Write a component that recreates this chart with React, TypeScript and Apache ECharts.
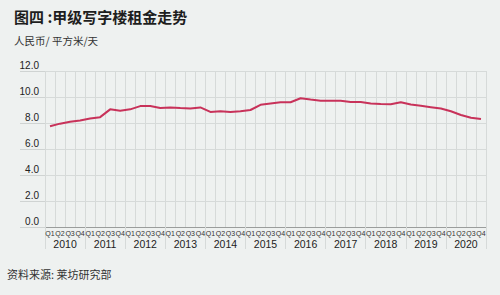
import React, { useEffect, useRef } from "react";
import * as echarts from "echarts";

const years = ["2010", "2011", "2012", "2013", "2014", "2015", "2016", "2017", "2018", "2019", "2020"];
const quarterNames = ["Q1", "Q2", "Q3", "Q4"];
const quarters: string[] = years.flatMap((y) => quarterNames.map((q) => `${y} ${q}`));
const rent = [
  7.75, 7.95, 8.1, 8.2,
  8.35, 8.45, 9.05, 8.95,
  9.05, 9.3, 9.3, 9.15,
  9.2, 9.15, 9.12, 9.2,
  8.85, 8.9, 8.85, 8.9,
  9.0, 9.4, 9.5, 9.6,
  9.6, 9.9, 9.8, 9.72,
  9.72, 9.72, 9.62, 9.62,
  9.5, 9.47, 9.45, 9.6,
  9.42, 9.32, 9.22, 9.12,
  8.9, 8.62, 8.4, 8.3,
];
const titleText = "图四 :甲级写字楼租金走势";
const unitText = "人民币/ 平方米/天";
const sourceText = "资料来源: 莱坊研究部";

const LATIN = "'Liberation Sans', Arial, 'Noto Sans CJK SC', sans-serif";
const CJK = "'Noto Sans CJK SC', 'Liberation Sans', sans-serif";

export default function App() {
  const ref = useRef<HTMLDivElement>(null);
  useEffect(() => {
    if (!ref.current) return;
    const chart = echarts.init(ref.current, null, { renderer: "svg" });
    chart.setOption({
      animation: false,
      backgroundColor: "#eef1f0",
      graphic: [
        {
          type: "text",
          left: 14,
          top: 9,
          style: { text: titleText, font: `bold 15px ${CJK}`, fill: "#1e1e1e" },
        },
        {
          type: "text",
          left: 14,
          top: 35,
          style: { text: unitText, font: `10.5px ${CJK}`, fill: "#333" },
        },
        {
          type: "text",
          left: 7,
          top: 268,
          style: { text: sourceText, font: `11px ${CJK}`, fill: "#333" },
        },
      ],
      grid: { left: 45, right: 14, top: 71, bottom: 68 },
      xAxis: [
        {
          type: "category",
          data: quarters,
          boundaryGap: true,
          axisLine: { show: true, lineStyle: { color: "#9a9d9c", width: 1 } },
          axisTick: { show: false },
          axisLabel: {
            interval: 0,
            margin: 3,
            fontSize: 7,
            fontFamily: LATIN,
            color: "#333",
            formatter: (v: string) => v.split(" ")[1],
          },
          splitLine: { show: true, interval: 0, lineStyle: { color: "#d6dad9", width: 1 } },
        },
        {
          type: "category",
          data: years,
          position: "bottom",
          boundaryGap: true,
          axisLine: { show: false },
          axisTick: { show: true, length: 22, lineStyle: { color: "#d6dad9" } },
          axisLabel: { margin: 12, fontSize: 10.5, fontFamily: LATIN, color: "#222" },
          splitLine: { show: false },
        },
      ],
      yAxis: {
        type: "value",
        min: 0,
        max: 12,
        interval: 2,
        axisLine: { show: false },
        axisTick: { show: true, length: 25, lineStyle: { color: "#cfd3d2" } },
        axisLabel: {
          margin: 6,
          fontSize: 10,
          fontFamily: LATIN,
          color: "#222",
          verticalAlign: "bottom",
          padding: [0, 0, 1, 0],
          formatter: (v: number) => v.toFixed(1),
        },
        splitLine: { show: true, lineStyle: { color: "#d6dad9", width: 1 } },
      },
      series: [
        {
          type: "line",
          xAxisIndex: 0,
          data: rent,
          symbol: "none",
          lineStyle: { color: "#c8325a", width: 2 },
        },
      ],
    });
    return () => chart.dispose();
  }, []);
  return (
    <div
      ref={ref}
      style={{ position: "fixed", left: 0, top: 0, width: 500, height: 295 }}
    />
  );
}
